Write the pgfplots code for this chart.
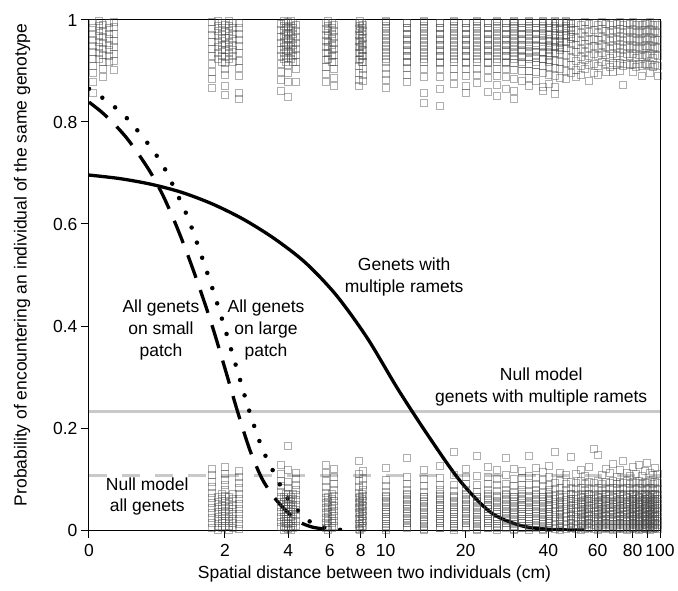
\documentclass[border=0pt]{standalone}
\usepackage{pgfplots}
\pgfplotsset{compat=1.18}
\usepackage{pgfplotstable}
\usepackage{fontspec}
\setmainfont{Liberation Sans}

% upper cluster of observations (x in cm, several y values per column)
\pgfplotstableread{
x     t1   t2   t3   t4   t5   t6   t7   t8   t9   t10  t11  t12
0.03  .995 .984 .973 .962 .950 .938 .925 .911 .896 .878 .858 nan
0.12  .991 .979 .967 .955 .943 .931 .918 .904 .889 nan  nan  nan
0.22  .997 .986 .974 .960 .947 .934 .920 .902 nan  nan  nan  nan
1.70  .996 .983 .971 .958 .944 .930 .914 .899 .884 .867 nan  nan
2.00  .990 .978 .966 .953 .941 .928 .916 .905 .893 .872 .853 nan
2.35  .994 .985 .974 .962 .950 .936 .921 .907 .890 .858 .846 nan
3.70  .993 .981 .968 .955 .942 .930 .915 .899 .882 .862 nan  nan
4.00  .997 .986 .975 .963 .951 .939 .926 .912 .897 .878 .850 nan
4.30  .990 .979 .967 .955 .943 .931 .918 .904 .879 nan  nan  nan
5.80  .995 .983 .971 .959 .947 .935 .922 .909 .894 .879 nan  nan
6.20  .991 .979 .967 .955 .943 .931 .918 .904 .887 .871 nan  nan
7.85  .995 .983 .971 .959 .947 .935 .922 .910 .896 .883 .872 nan
8.15  .990 .978 .966 .954 .942 .930 .918 .905 .892 .880 nan  nan
10    .996 .985 .974 .963 .952 .941 .930 .919 .907 .895 .882 .868
12    .995 .984 .973 .962 .951 .940 .929 .918 .906 .893 .878 nan
14    .996 .985 .974 .963 .952 .941 .930 .919 .905 .889 .858 .838
16    .995 .984 .973 .962 .951 .940 .929 .917 .904 .888 .866 .832
18    .996 .985 .974 .963 .952 .941 .930 .918 .905 .891 .876 nan
20    .995 .984 .973 .962 .951 .940 .929 .917 .904 .890 .872 .858
22    .996 .985 .974 .963 .952 .941 .930 .918 .905 .892 .877 nan
24    .995 .984 .973 .962 .951 .940 .929 .917 .903 .887 .860 nan
26    .996 .985 .974 .963 .952 .941 .930 .918 .905 .890 .873 .852
28    .995 .984 .973 .962 .951 .940 .929 .917 .904 .889 .866 nan
30    .996 .985 .974 .963 .952 .941 .929 .916 .902 .885 .861 .845
32    .995 .984 .973 .962 .951 .940 .928 .915 .900 .880 nan  nan
34    .996 .985 .974 .963 .952 .940 .928 .915 .901 .887 .872 nan
36    .995 .984 .973 .962 .950 .938 .926 .913 .898 .880 nan  nan
38    .996 .985 .974 .962 .950 .938 .925 .911 .896 .870 .862 nan
40    .995 .984 .972 .960 .948 .936 .923 .909 .893 .875 nan  nan
42    .996 .984 .972 .960 .948 .935 .921 .906 .890 .869 .855 nan
44    .994 .982 .970 .958 .946 .933 .919 .904 .887 nan  nan  nan
46    .996 .984 .971 .958 .945 .931 .916 .900 .884 nan  nan  nan
48    .993 .980 .967 .954 .941 .927 .912 .896 nan  nan  nan  nan
50    .995 .981 .966 .952 .937 .921 .903 .888 nan  nan  nan  nan
52    .990 .976 .960 .944 .928 .910 .893 nan  nan  nan  nan  nan
54    .996 .983 .968 .953 .938 .922 .905 nan  nan  nan  nan  nan
56    .992 .977 .962 .946 .930 .913 .880 nan  nan  nan  nan  nan
58    .995 .980 .964 .949 .933 .915 .897 nan  nan  nan  nan  nan
60    .991 .976 .961 .945 .929 .911 .892 nan  nan  nan  nan  nan
62    .996 .982 .967 .951 .935 .918 nan  nan  nan  nan  nan  nan
64    .993 .978 .963 .947 .931 .914 .898 nan  nan  nan  nan  nan
66    .990 .975 .959 .943 .926 .908 nan  nan  nan  nan  nan  nan
68    .995 .980 .965 .949 .933 .916 .899 nan  nan  nan  nan  nan
70    .992 .977 .962 .946 .930 .912 nan  nan  nan  nan  nan  nan
72    .996 .982 .967 .951 .935 .917 .900 nan  nan  nan  nan  nan
74    .991 .976 .960 .944 .928 .910 .873 nan  nan  nan  nan  nan
76    .995 .981 .966 .950 .934 .915 nan  nan  nan  nan  nan  nan
78    .992 .977 .961 .945 .929 .912 nan  nan  nan  nan  nan  nan
80    .996 .981 .966 .950 .933 .915 .898 nan  nan  nan  nan  nan
82    .990 .975 .960 .944 .927 .909 nan  nan  nan  nan  nan  nan
84    .994 .979 .964 .948 .932 .914 nan  nan  nan  nan  nan  nan
86    .991 .976 .960 .944 .928 .910 .890 nan  nan  nan  nan  nan
88    .995 .980 .965 .949 .932 .914 nan  nan  nan  nan  nan  nan
90    .992 .977 .962 .946 .930 .912 nan  nan  nan  nan  nan  nan
92    .996 .981 .966 .950 .933 .915 .896 nan  nan  nan  nan  nan
94    .990 .975 .959 .943 .927 .908 nan  nan  nan  nan  nan  nan
96    .994 .979 .964 .948 .931 .913 nan  nan  nan  nan  nan  nan
98    .991 .976 .961 .945 .929 .911 .890 nan  nan  nan  nan  nan
100   .995 .980 .965 .949 .932 .914 nan  nan  nan  nan  nan  nan
}\toptable

% dense core of the upper cluster
\pgfplotstableread{
x     c1   c2   c3   c4   c5   c6   c7   c8
0.08  .999 .989 .979 .969 .958 .947 .936 .925
0.17  .994 .984 .974 .963 .952 .941 .930 .918
1.82  .999 .989 .979 .969 .958 .947 .936 .925
1.92  .994 .984 .974 .963 .952 .941 .930 .918
2.10  .999 .989 .979 .969 .958 .947 .936 .925
2.20  .994 .984 .974 .963 .952 .941 .930 .918
3.82  .999 .989 .979 .969 .958 .947 .936 .925
3.92  .994 .984 .974 .963 .952 .941 .930 .918
4.10  .999 .989 .979 .969 .958 .947 .936 .925
4.18  .994 .984 .974 .963 .952 .941 .930 .918
5.90  .999 .989 .979 .969 .958 .947 .936 .925
6.10  .994 .984 .974 .963 .952 .941 .930 .918
7.95  .999 .989 .979 .969 .958 .947 .936 .925
8.05  .994 .984 .974 .963 .952 .941 .930 .918
10    .999 .989 .979 .969 .958 .947 .936 .925
12    .994 .984 .974 .963 .952 .941 .930 .918
14    .999 .989 .979 .969 .958 .947 .936 .925
16    .994 .984 .974 .963 .952 .941 .930 .918
18    .999 .989 .979 .969 .958 .947 .936 .925
20    .994 .984 .974 .963 .952 .941 .930 .918
22    .999 .989 .979 .969 .958 .947 .936 .925
24    .994 .984 .974 .963 .952 .941 .930 .918
26    .999 .989 .979 .969 .958 .947 .936 .925
28    .994 .984 .974 .963 .952 .941 .930 .918
30    .999 .989 .979 .969 .958 .947 .936 .925
32    .994 .984 .974 .963 .952 .941 .930 .918
34    .999 .989 .979 .969 .958 .947 .936 .925
36    .994 .984 .974 .963 .952 .941 .930 .918
38    .999 .989 .979 .969 .958 .947 .936 .925
40    .994 .984 .974 .963 .952 .941 .930 .918
42    .999 .989 .979 .969 .958 .947 .936 nan
44    .994 .984 .974 .963 .952 .941 nan  nan
46    .999 .989 .979 .969 .958 nan  nan  nan
48    .994 .984 .974 .963 nan  nan  nan  nan
}\topcore

% lower cluster of observations
\pgfplotstableread{
x     b1   b2   b3   b4   b5   b6   b7   b8   b9   b10  b11  b12
1.70  .004 .014 .024 .034 .044 .054 .064 .074 .084 .095 .108 .120
2.00  .008 .018 .028 .038 .048 .058 .068 .078 .088 .099 .110 .125
2.35  .002 .012 .022 .032 .042 .052 .062 .072 .082 .092 .104 .116
3.70  .006 .016 .026 .036 .046 .056 .066 .076 .086 .097 .110 .128
4.00  .002 .012 .022 .032 .042 .052 .062 .072 .082 .094 .118 .165
4.30  .009 .019 .029 .039 .049 .059 .069 .079 .089 .101 .113 nan
5.80  .004 .014 .024 .034 .044 .054 .064 .074 .085 .097 .112 .128
6.20  .008 .018 .028 .038 .048 .058 .068 .078 .090 .104 .120 nan
7.85  .003 .013 .023 .033 .043 .053 .063 .073 .084 .096 .110 .135
8.15  .008 .018 .028 .038 .048 .058 .068 .078 .089 .101 .117 nan
10    .004 .013 .022 .031 .040 .049 .058 .067 .076 .086 .098 .122
12    .006 .015 .024 .033 .042 .051 .060 .069 .079 .090 .104 .141
14    .003 .012 .021 .030 .039 .048 .057 .066 .076 .087 .100 .118
16    .005 .014 .023 .032 .041 .050 .059 .068 .078 .089 .103 .126
18    .004 .013 .022 .031 .040 .049 .058 .067 .077 .089 .108 .153
20    .006 .015 .024 .033 .042 .051 .060 .069 .079 .090 .104 .120
22    .003 .012 .021 .030 .039 .048 .057 .066 .076 .088 .106 .145
24    .005 .014 .023 .032 .041 .050 .059 .068 .078 .090 .105 .124
26    .004 .013 .022 .031 .040 .049 .058 .067 .077 .088 .101 .119
28    .006 .015 .024 .033 .042 .051 .060 .069 .079 .091 .108 .141
30    .003 .012 .021 .030 .039 .048 .057 .066 .076 .087 .100 .121
32    .005 .014 .023 .032 .041 .050 .059 .068 .078 .089 .103 .117
34    .004 .013 .022 .031 .040 .049 .058 .067 .077 .089 .106 .145
36    .006 .015 .024 .033 .042 .051 .060 .069 .079 .090 .102 .123
38    .003 .012 .021 .030 .039 .048 .057 .066 .076 .087 .099 .114
40    .005 .014 .023 .032 .041 .050 .059 .068 .078 .089 .104 .126
42    .003 .011 .019 .027 .035 .043 .052 .061 .070 .080 .092 .153
44    .005 .013 .021 .029 .037 .045 .054 .063 .072 .083 .096 .112
46    .002 .010 .018 .026 .034 .042 .051 .060 .069 .079 .091 .108
48    .004 .012 .020 .028 .036 .044 .053 .062 .071 .082 .095 .143
50    .003 .011 .019 .027 .035 .043 .052 .061 .070 .080 .092 .110
52    .005 .013 .021 .029 .037 .045 .054 .063 .072 .083 .097 .118
54    .002 .010 .018 .026 .034 .042 .051 .060 .069 .079 .090 .106
56    .004 .012 .020 .028 .036 .044 .053 .062 .071 .082 .094 .124
58    .003 .011 .019 .027 .035 .043 .052 .061 .070 .080 .093 .160
60    .005 .013 .021 .029 .037 .045 .054 .063 .072 .083 .096 .147
62    .002 .010 .018 .026 .034 .042 .051 .060 .069 .079 .091 .109
64    .004 .012 .020 .028 .036 .044 .053 .062 .071 .082 .095 .121
66    .003 .011 .019 .027 .035 .043 .052 .061 .070 .080 .092 .112
68    .005 .013 .021 .029 .037 .045 .054 .063 .072 .083 .097 .130
70    .002 .010 .018 .026 .034 .042 .051 .060 .069 .079 .090 .105
72    .004 .012 .020 .028 .036 .044 .053 .062 .071 .082 .094 .119
74    .003 .011 .019 .027 .035 .043 .052 .061 .070 .080 .093 .136
76    .005 .013 .021 .029 .037 .045 .054 .063 .072 .083 .096 .113
78    .002 .010 .018 .026 .034 .042 .051 .060 .069 .079 .091 .107
80    .004 .012 .020 .028 .036 .044 .053 .062 .071 .082 .095 .125
82    .003 .011 .019 .027 .035 .043 .052 .061 .070 .080 .092 .111
84    .005 .013 .021 .029 .037 .045 .054 .063 .072 .083 .097 .128
86    .002 .010 .018 .026 .034 .042 .051 .060 .069 .079 .090 .106
88    .004 .012 .020 .028 .036 .044 .053 .062 .071 .082 .094 .117
90    .003 .011 .019 .027 .035 .043 .052 .061 .070 .080 .093 .131
92    .005 .013 .021 .029 .037 .045 .054 .063 .072 .083 .096 .112
94    .002 .010 .018 .026 .034 .042 .051 .060 .069 .079 .091 .108
96    .004 .012 .020 .028 .036 .044 .053 .062 .071 .082 .095 .122
98    .003 .011 .019 .027 .035 .043 .052 .061 .070 .080 .092 .110
100   .005 .013 .021 .029 .037 .045 .054 .063 .072 .083 .097 .120
}\bottable

% dense core of the lower cluster
\pgfplotstableread{
x     d1   d2   d3   d4   d5   d6   d7   d8
1.82  .000 .009 .018 .027 .036 .045 .055 .066
1.92  .005 .014 .023 .032 .041 .050 .061 .072
2.10  .000 .009 .018 .027 .036 .045 .055 .066
2.20  .005 .014 .023 .032 .041 .050 .061 .072
3.82  .000 .009 .018 .027 .036 .045 .055 .066
3.92  .005 .014 .023 .032 .041 .050 .061 .072
4.10  .000 .009 .018 .027 .036 .045 .055 .066
4.18  .005 .014 .023 .032 .041 .050 .061 .072
5.90  .000 .009 .018 .027 .036 .045 .055 .066
6.10  .005 .014 .023 .032 .041 .050 .061 .072
7.95  .000 .009 .018 .027 .036 .045 .055 .066
8.05  .005 .014 .023 .032 .041 .050 .061 .072
10    .000 .009 .018 .027 .036 .045 .055 .066
12    .005 .014 .023 .032 .041 .050 .061 .072
14    .000 .009 .018 .027 .036 .045 .055 .066
16    .005 .014 .023 .032 .041 .050 .061 .072
18    .000 .009 .018 .027 .036 .045 .055 .066
20    .005 .014 .023 .032 .041 .050 .061 .072
22    .000 .009 .018 .027 .036 .045 .055 .066
24    .005 .014 .023 .032 .041 .050 .061 .072
26    .000 .009 .018 .027 .036 .045 .055 .066
28    .005 .014 .023 .032 .041 .050 .061 .072
30    .000 .009 .018 .027 .036 .045 .055 .066
32    .005 .014 .023 .032 .041 .050 .061 .072
34    .000 .009 .018 .027 .036 .045 .055 .066
36    .005 .014 .023 .032 .041 .050 .061 .072
38    .000 .009 .018 .027 .036 .045 .055 .066
40    .005 .014 .023 .032 .041 .050 .061 .072
44    .000 .009 .018 .027 .036 .045 .055 .066
48    .005 .014 .023 .032 .041 .050 .061 .072
52    .000 .009 .018 .027 .036 .045 .055 .066
56    .005 .014 .023 .032 .041 .050 .061 .072
60    .000 .009 .018 .027 .036 .045 .055 .066
64    .005 .014 .023 .032 .041 .050 .061 .072
68    .000 .009 .018 .027 .036 .045 .055 .066
72    .005 .014 .023 .032 .041 .050 .061 .072
76    .000 .009 .018 .027 .036 .045 .055 .066
80    .005 .014 .023 .032 .041 .050 .061 .072
84    .000 .009 .018 .027 .036 .045 .055 .066
88    .005 .014 .023 .032 .041 .050 .061 .072
92    .000 .009 .018 .027 .036 .045 .055 .066
96    .005 .014 .023 .032 .041 .050 .061 .072
100   .000 .009 .018 .027 .036 .045 .055 .066
}\botcore

% fitted curves
\pgfplotstableread{
x      y
0      0.696
0.284  0.689
0.649  0.678
1.117  0.662
1.718  0.639
2.490  0.609
3.482  0.571
4.755  0.524
6.389  0.460
8.488  0.376
11.18  0.275
14.64  0.182
19.09  0.096
24.79  0.034
32.12  0.008
41.52  0.001
53.6   0.000
}\ramets

\pgfplotstableread{
x      y
0      0.839
0.105  0.820
0.221  0.797
0.350  0.770
0.492  0.737
0.649  0.700
0.822  0.655
1.014  0.600
1.226  0.538
1.460  0.470
1.718  0.397
2.004  0.316
2.320  0.233
2.669  0.157
3.055  0.100
3.482  0.063
3.953  0.036
4.474  0.016
5.050  0.006
5.686  0.002
6.389  0.000
}\smallpatch

\pgfplotstableread{
x      y
0      0.865
0.105  0.849
0.221  0.831
0.350  0.809
0.492  0.781
0.649  0.750
0.822  0.714
1.014  0.665
1.226  0.612
1.460  0.544
1.718  0.472
2.004  0.394
2.320  0.312
2.669  0.230
3.055  0.160
3.482  0.110
3.953  0.064
4.474  0.035
5.050  0.014
5.686  0.005
6.389  0.001
6.768  0.000
}\largepatch

\begin{document}
\begin{tikzpicture}
\path[use as bounding box] (-89pt,-60pt) rectangle (589pt,530pt);
\begin{axis}[
  at={(0pt,0pt)}, anchor=south west,
  scale only axis, width=571pt, height=510pt,
  xmin=0, xmax=100, ymin=0, ymax=1,
  x coord trafo/.code={\pgfmathparse{ln(#1+1)}},
  x coord inv trafo/.code={\pgfmathparse{exp(#1)-1}},
  xtick={0,2,4,6,8,10,20,30,40,50,60,70,80,90,100},
  xticklabels={0,2,4,6,8,10,20,,40,,60,,80,,100},
  ytick={0,0.2,0.4,0.6,0.8,1},
  yticklabels={0,0.2,0.4,0.6,0.8,1},
  tick pos=left, tick align=outside, major tick length=8pt,
  tick style={line width=1pt, black},
  axis line style={line width=1pt},
  ticklabel style={font=\fontsize{17.5}{20}\selectfont},
  xticklabel style={yshift=-3pt},
  label style={font=\fontsize{17.5}{20}\selectfont},
  xlabel={Spatial distance between two individuals (cm)},
  ylabel={Probability of encountering an individual of the same genotype},
  xlabel style={at={(axis description cs:0.5,-0.086)}, anchor=center},
  ylabel style={at={(axis description cs:-0.117,0.52)}, anchor=center},
  scat/.style={only marks, mark=square, mark size=3.5pt,
    mark options={draw=black!75, opacity=0.42, line width=0.45pt}, forget plot},
]
\pgfplotsinvokeforeach{t1,t2,t3,t4,t5,t6,t7,t8,t9,t10,t11,t12}{
  \addplot[scat] table[x=x, y=#1] {\toptable};
}
\pgfplotsinvokeforeach{c1,c2,c3,c4,c5,c6,c7,c8}{
  \addplot[scat] table[x=x, y=#1] {\topcore};
}
\pgfplotsinvokeforeach{b1,b2,b3,b4,b5,b6,b7,b8,b9,b10,b11,b12}{
  \addplot[scat] table[x=x, y=#1] {\bottable};
}
\pgfplotsinvokeforeach{d1,d2,d3,d4,d5,d6,d7,d8}{
  \addplot[scat] table[x=x, y=#1] {\botcore};
}
% null models
\addplot[color=black!21, line width=3.5pt] coordinates {(0,0.232) (100,0.232)};
\addplot[color=black!21, line width=3.5pt, dash pattern=on 18pt off 15pt] coordinates {(0,0.107) (100,0.107)};
% fitted curves
\addplot[black, line width=3.3pt, smooth] table[x=x, y=y] {\ramets};
\addplot[black, line width=3.3pt, smooth, dash pattern=on 24pt off 13pt] table[x=x, y=y] {\smallpatch};
\addplot[black, line width=4.5pt, smooth, line cap=round, dash pattern=on 0pt off 16pt] table[x=x, y=y] {\largepatch};

\node[align=center, font=\fontsize{17.5}{21.5}\selectfont] at (axis description cs:0.552,0.496) {Genets with\\multiple ramets};
\node[align=center, font=\fontsize{17.5}{22.5}\selectfont] at (axis description cs:0.792,0.280) {Null model\\genets with multiple ramets};
\node[align=center, font=\fontsize{17.5}{22}\selectfont] at (axis description cs:0.126,0.392) {All genets\\on small\\patch};
\node[align=center, font=\fontsize{17.5}{22}\selectfont] at (axis description cs:0.310,0.392) {All genets\\on large\\patch};
\node[align=center, font=\fontsize{17.5}{21}\selectfont] at (axis description cs:0.102,0.065) {Null model\\all genets};
\end{axis}
\end{tikzpicture}
\end{document}
